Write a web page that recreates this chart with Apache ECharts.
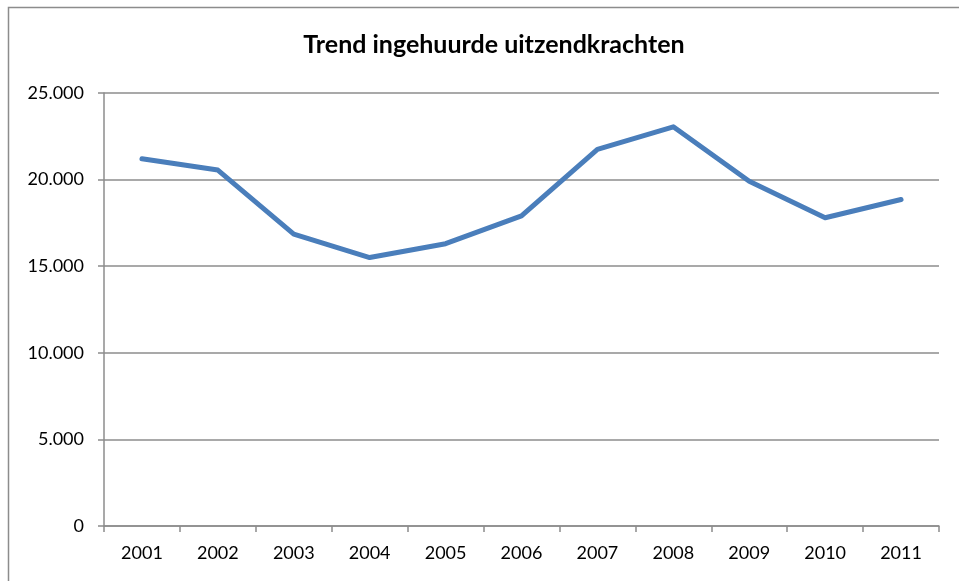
<!DOCTYPE html>
<html>
<head>
<meta charset="utf-8">
<script src="https://cdn.jsdelivr.net/npm/echarts@6/dist/echarts.min.js"></script>
<style>
  html, body { margin: 0; padding: 0; background: #fff; }
  #chart { width: 959px; height: 581px; }
</style>
</head>
<body>
<div id="chart"></div>
<script>
const years = ['2001', '2002', '2003', '2004', '2005', '2006', '2007', '2008', '2009', '2010', '2011'];
const workers = [21200, 20550, 16850, 15500, 16300, 17900, 21750, 23050, 19900, 17800, 18850];
const chartTitle = 'Trend ingehuurde uitzendkrachten';

const myChart = echarts.init(document.getElementById('chart'));

const option = {
  animation: false,
  backgroundColor: '#fff',
  textStyle: { fontFamily: 'Lato' },
  title: {
    text: chartTitle,
    left: 489,
    textAlign: 'center',
    top: 27,
    textStyle: { fontFamily: 'Lato', fontWeight: 'bold', fontSize: 25, color: '#000' }
  },
  // outer chart-area border (only top/left visible in the crop)
  graphic: [{
    type: 'rect',
    shape: { x: 8.5, y: 7.5, width: 1000, height: 1000 },
    style: { fill: 'none', stroke: '#8c8c8c', lineWidth: 1.5 },
    silent: true
  }],
  grid: { left: 104, right: 20, top: 93, bottom: 55 },
  xAxis: {
    type: 'category',
    data: years,
    boundaryGap: true,
    axisLine: { lineStyle: { color: '#8c8c8c', width: 1.5 } },
    axisTick: { show: true, length: 6, lineStyle: { color: '#8c8c8c', width: 1.5 } },
    axisLabel: { color: '#000', fontSize: 18, margin: 18 }
  },
  yAxis: {
    type: 'value',
    min: 0,
    max: 25000,
    interval: 5000,
    axisLine: { show: true, lineStyle: { color: '#8c8c8c', width: 1.5 } },
    axisTick: { show: true, length: 6, lineStyle: { color: '#8c8c8c', width: 1.5 } },
    splitLine: { lineStyle: { color: '#8c8c8c', width: 1.5 } },
    axisLabel: {
      color: '#000',
      fontSize: 18,
      margin: 20,
      formatter: v => String(v).replace(/\B(?=(\d{3})+(?!\d))/g, '.')
    }
  },
  series: [{
    name: 'Uitzendkrachten',
    type: 'line',
    data: workers,
    symbol: 'none',
    lineStyle: { color: '#4a7ebb', width: 5, cap: 'round', join: 'round' },
    itemStyle: { color: '#4a7ebb' }
  }]
};

myChart.setOption(option);
</script>
</body>
</html>
